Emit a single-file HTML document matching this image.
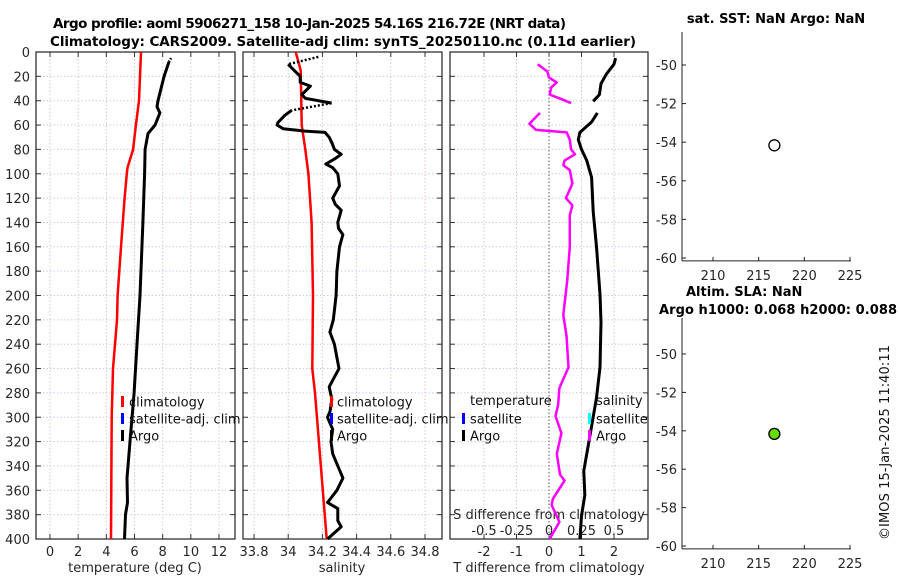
<!DOCTYPE html>
<html><head><meta charset="utf-8"><style>
body{margin:0;background:#fff}
svg{display:block;font-family:"DejaVu Sans","Liberation Sans",sans-serif}
</style></head><body>
<svg id="c" width="900" height="580" viewBox="0 0 900 580"></svg>
<script>
// ---- data ----
const climTdepth=[0,40,60,80,95,100,120,160,200,220,260,300,400];
const climT=[6.46,6.32,6.1,5.9,5.5,5.45,5.3,5.04,4.8,4.76,4.47,4.38,4.33];
const argoTdepthA=[5,8];
const argoTA=[8.6,8.45];
const argoTdepth=[8,20,40,45,50,60,67,80,100,140,200,240,280,320,350,370,380,400];
const argoT=[8.45,8.1,7.67,7.6,7.8,7.46,6.96,6.75,6.72,6.6,6.39,6.18,5.97,5.68,5.47,5.5,5.36,5.29];
const climSdepth=[0,15,60,80,100,140,200,260,280,400];
const climS=[34.044,34.073,34.079,34.10,34.118,34.137,34.145,34.141,34.157,34.225];
const argoSdotA=[[4,10],[34.176,34.0]];
const argoSdotB=[[42,48],[34.254,34.02]];
const argoSdepth1=[10,13,20,25,28,35,38,42];
const argoS1=[34.0,34.02,34.07,34.07,34.13,34.08,34.1,34.254];
const argoSdepth2=[48,52,58,60,63,65,66,70,75,80,84,88,92,95,100,110,120,125,130,140,145,150,160,180,200,220,230,240,260,275,285,295,300,310,320,330,340,350,360,370,375,385,390,400];
const argoS2=[34.02,33.98,33.94,33.935,33.97,34.1,34.215,34.24,34.257,34.27,34.31,34.27,34.22,34.26,34.29,34.30,34.26,34.275,34.31,34.29,34.295,34.32,34.30,34.285,34.28,34.264,34.244,34.27,34.297,34.24,34.255,34.245,34.23,34.26,34.25,34.26,34.29,34.32,34.285,34.23,34.29,34.29,34.31,34.23];
const dTdepth1=[5,10,18,26,35,40.5];
const dT1=[2.05,2.0,1.77,1.6,1.55,1.36];
const dTdepth2=[50,57.5,66,72,80,89,103,131,160,199,222,259,284,315,344,364,381,400];
const dT2=[1.49,1.31,0.95,0.9,1.0,1.16,1.31,1.36,1.46,1.57,1.6,1.57,1.46,1.26,1.07,1.1,1.0,0.95];
const dSdepth1=[10,16,21,25,29,35,38,42];
const dS1=[-0.087,-0.013,0.0,0.059,0.018,0.005,0.08,0.17];
const dSdepth2=[50,59,64,66,72,80,84,89,93,97,108,120,126,134,160,188,216,233,259,276,290,299,313,330,347,352,367,372,386,400];
const dS2=[-0.07,-0.15,-0.1,0.136,0.16,0.17,0.2,0.12,0.11,0.16,0.18,0.13,0.18,0.16,0.16,0.14,0.11,0.135,0.15,0.08,0.07,0.05,0.095,0.06,0.085,0.12,0.03,0.02,0.08,0.005];
const depthTicks=[0,20,40,60,80,100,120,140,160,180,200,220,240,260,280,300,320,340,360,380,400];
const tTicks=[0,2,4,6,8,10,12];
const sTicks=[33.8,34,34.2,34.4,34.6,34.8];
const sTickLabels=["33.8","34","34.2","34.4","34.6","34.8"];
const dTTicks=[-2,-1,0,1,2];
const dSTicks=[-0.5,-0.25,0,0.25,0.5];
const latTicks=[-50,-52,-54,-56,-58,-60];
const lonTicks=[210,215,220,225];
const floatLon=[216.72];
const floatLat=[-54.16];

// ---- helpers ----
const svg=document.getElementById('c');
const NS='http://www.w3.org/2000/svg';
function el(tag,attrs,parent){const e=document.createElementNS(NS,tag);for(const k in attrs)e.setAttribute(k,attrs[k]);(parent||svg).appendChild(e);return e;}
function txt(s,x,y,attrs,name){const t=el('text',Object.assign({x:x,y:y,'font-size':13,fill:'#262626'},attrs||{}));t.textContent=s;


return t;}
const top0=52,bot0=539;
const yD=d=>top0+(bot0-top0)*d/400;
function lin(d0,d1,p0,p1){return v=>p0+(v-d0)*(p1-p0)/(d1-d0);}
function poly(xs,ds,fx,attrs,name){const pts=xs.map((v,i)=>fx(v).toFixed(1)+','+yD(ds[i]).toFixed(1)).join(' ');
const p=el('polyline',Object.assign({points:pts,fill:'none','stroke-linejoin':'round'},attrs));


return p;}

function panel(x0,x1,fx,vTicks,labels,name){
  const g=el('g',{});
  
  
  vTicks.forEach(v=>{const x=fx(v);el('line',{x1:x,x2:x,y1:top0,y2:bot0,stroke:'#dcc6c0','stroke-width':1,'stroke-dasharray':'1.5,2'},g);
    el('line',{x1:x,x2:x,y1:bot0,y2:bot0-5,stroke:'#333'},g);el('line',{x1:x,x2:x,y1:top0,y2:top0+5,stroke:'#333'},g);});
  depthTicks.forEach(d=>{const y=yD(d);el('line',{x1:x0,x2:x1,y1:y,y2:y,stroke:'#c6cce6','stroke-width':1,'stroke-dasharray':'1.5,2'},g);
    el('line',{x1:x0,x2:x0+5,y1:y,y2:y,stroke:'#333'},g);el('line',{x1:x1,x2:x1-5,y1:y,y2:y,stroke:'#333'},g);});
  el('rect',{x:x0,y:top0,width:x1-x0,height:bot0-top0,fill:'none',stroke:'#222','stroke-width':1.2},g);
  if(labels) vTicks.forEach((v,i)=>txt(labels[i],fx(v),556,{'text-anchor':'middle'},'x-tick-label'));
  return g;
}

// titles
txt('Argo profile: aoml 5906271_158 10-Jan-2025 54.16S 216.72E (NRT data)',53,28,{'font-weight':'bold','font-size':13.5,textLength:513,fill:'#000'},'main-title-line1');
txt('Climatology: CARS2009. Satellite-adj clim: synTS_20250110.nc (0.11d earlier)',50,46,{'font-weight':'bold','font-size':13.5,textLength:586,fill:'#000'},'main-title-line2');

// depth labels
depthTicks.forEach(d=>txt(String(d),30,yD(d)+5,{'text-anchor':'end'},'depth-tick-label'));

// panel 1 temperature
const fT=lin(0,12,50,219);
panel(36,235,fT,tTicks,tTicks.map(String),'temperature-panel');
txt('temperature (deg C)',135,572,{'text-anchor':'middle'},'x-axis-title-temperature');
poly(climT,climTdepth,fT,{stroke:'#f00','stroke-width':2.5},'temperature-climatology-line');
poly(argoTA,argoTdepthA,fT,{stroke:'#000','stroke-width':2.5,'stroke-dasharray':'1.5,1.5'},'temperature-argo-dotted-top');
poly(argoT,argoTdepth,fT,{stroke:'#000','stroke-width':3},'temperature-argo-line');

// panel 2 salinity
const fS=lin(33.8,34.8,254,425);
panel(243,442,fS,sTicks,sTickLabels,'salinity-panel');
txt('salinity',342,572,{'text-anchor':'middle'},'x-axis-title-salinity');
poly(climS,climSdepth,fS,{stroke:'#f00','stroke-width':2.5},'salinity-climatology-line');
poly(argoSdotA[1],argoSdotA[0],fS,{stroke:'#000','stroke-width':2.5,'stroke-dasharray':'2,2'},'salinity-argo-dotted-a');
poly(argoSdotB[1],argoSdotB[0],fS,{stroke:'#000','stroke-width':2.5,'stroke-dasharray':'2,2'},'salinity-argo-dotted-b');
poly(argoS1,argoSdepth1,fS,{stroke:'#000','stroke-width':3},'salinity-argo-line-upper');
poly(argoS2,argoSdepth2,fS,{stroke:'#000','stroke-width':3},'salinity-argo-line');

// legends panels 1 and 2
function legend(bx,tx,name){
  const cols=['#f00','#00f','#000'],labs=['climatology','satellite-adj. clim','Argo'];
  labs.forEach((l,i)=>{const y=402+i*17;const r=el('rect',{x:bx,y:y-6,width:3,height:11,fill:cols[i]});
  
  
  txt(l,tx,y+4.5,{fill:'#111'},name+'-label');});
}
legend(121,129,'temperature-legend');
legend(330,337,'salinity-legend');

// panel 3 differences
const fdT=lin(-2,2,484,614);
const fdS=lin(-0.5,0.5,484,614);
panel(450,648,fdT,dTTicks,dTTicks.map(String),'difference-panel');
el('line',{x1:fdT(0),x2:fdT(0),y1:top0,y2:bot0,stroke:'#555','stroke-width':1,'stroke-dasharray':'1.5,2'});
txt('T difference from climatology',549,572,{'text-anchor':'middle'},'x-axis-title-tdiff');
txt('S difference from climatology',549,519,{'text-anchor':'middle'},'axis-title-sdiff');
dSTicks.forEach(v=>txt(String(v),fdS(v),535,{'text-anchor':'middle'},'sdiff-tick-label'));
poly(dT1,dTdepth1,fdT,{stroke:'#000','stroke-width':3},'tdiff-argo-line-upper');
poly(dT2,dTdepth2,fdT,{stroke:'#000','stroke-width':3},'tdiff-argo-line');
poly(dS1,dSdepth1,fdS,{stroke:'#f0f','stroke-width':2.5},'sdiff-argo-line-upper');
poly(dS2,dSdepth2,fdS,{stroke:'#f0f','stroke-width':2.5},'sdiff-argo-line');
txt('temperature',470,405,{fill:'#111'},'tdiff-legend-header');
txt('salinity',596,405,{fill:'#111'},'sdiff-legend-header');
[['#00f',462,'satellite',0],['#000',462,'Argo',1],['#0ff',588,'satellite',0],['#f0f',588,'Argo',1]].forEach(a=>{
  const y=419+a[3]*17;const r=el('rect',{x:a[1],y:y-6,width:3,height:11,fill:a[0]});
  
  
  txt(a[2],a[1]+8,y+4.5,{fill:'#111'},'diff-legend-label');});

// map panels
function mapPanel(yTop,yM50,yM60,title,fillCol,name){
  const g=el('g',{});
  
  
  const fy=lin(-50,-60,yM50,yM60),fx=lin(210,225,713,850);
  const yb=fy(-60.15);
  el('line',{x1:682,x2:682,y1:yTop,y2:yb,stroke:'#222'},g);
  el('line',{x1:682,x2:851,y1:yb,y2:yb,stroke:'#222'},g);
  latTicks.forEach(v=>{const y=fy(v);el('line',{x1:682,x2:686,y1:y,y2:y,stroke:'#222'},g);txt(String(v),677,y+5,{'text-anchor':'end'},'lat-tick-label');});
  lonTicks.forEach(v=>{const x=fx(v);el('line',{x1:x,x2:x,y1:yb,y2:yb-4,stroke:'#222'},g);txt(String(v),x,yb+19,{'text-anchor':'middle'},'lon-tick-label');});
  floatLon.forEach((lo,i)=>{const c=el('circle',{cx:fx(lo),cy:fy(floatLat[i]),r:5.5,fill:fillCol,stroke:'#000','stroke-width':1.3},g);
    
    });
}
mapPanel(32,65,258,'','#fff','sst-map-panel');
mapPanel(318,354,546,'','#66dd00','sla-map-panel');
txt('sat. SST: NaN Argo: NaN',776,23,{'text-anchor':'middle','font-weight':'bold',fill:'#000'},'sst-panel-title');
txt('Altim. SLA: NaN',686,296,{'font-weight':'bold',fill:'#000'},'sla-panel-title-line1');
txt('Argo h1000: 0.068 h2000: 0.088',659,314,{'font-weight':'bold',fill:'#000',textLength:238},'sla-panel-title-line2');
txt('©IMOS 15-Jan-2025 11:40:11',0,0,{transform:'translate(889,540) rotate(-90)','font-size':13,fill:'#111',textLength:195},'timestamp-credit');
</script>
</body></html>
